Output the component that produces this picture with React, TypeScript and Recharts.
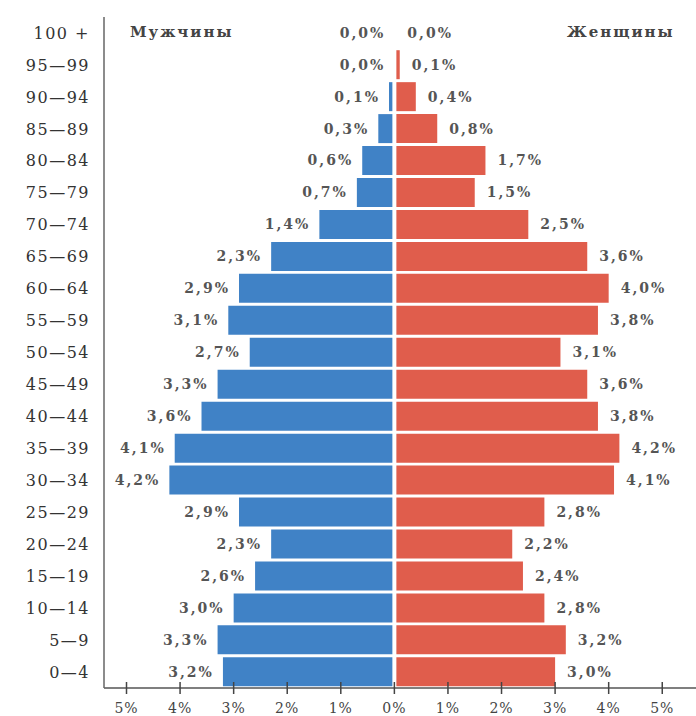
import React from "react";
import {
  BarChart, Bar, XAxis, YAxis, ReferenceLine, LabelList,
} from "recharts";

const ages = [
  "100 +", "95—99", "90—94", "85—89", "80—84", "75—79", "70—74",
  "65—69", "60—64", "55—59", "50—54", "45—49", "40—44", "35—39",
  "30—34", "25—29", "20—24", "15—19", "10—14", "5—9", "0—4",
];
const male = [0.0, 0.0, 0.1, 0.3, 0.6, 0.7, 1.4, 2.3, 2.9, 3.1, 2.7, 3.3, 3.6, 4.1, 4.2, 2.9, 2.3, 2.6, 3.0, 3.3, 3.2];
const female = [0.0, 0.1, 0.4, 0.8, 1.7, 1.5, 2.5, 3.6, 4.0, 3.8, 3.1, 3.6, 3.8, 4.2, 4.1, 2.8, 2.2, 2.4, 2.8, 3.2, 3.0];
const xTicks = [-5, -4, -3, -2, -1, 0, 1, 2, 3, 4, 5];

const rows = ages.map((age, i) => ({ age, male: -male[i], female: female[i] }));

const SERIF = "'DejaVu Serif', serif";
const fmt = (v: number) => `${Math.abs(v).toFixed(1).replace(".", ",")}%`;

// eslint-disable-next-line @typescript-eslint/no-explicit-any
function XTick({ x, y, payload }: any) {
  return (
    <g>
      <line x1={x} x2={x} y1={y - 6} y2={y + 6} stroke="#444" strokeWidth={1.5} />
      <text x={x} y={y + 25} textAnchor="middle" fontSize={14} letterSpacing={1} fill="#444" fontFamily={SERIF}>
        {Math.abs(payload.value)}%
      </text>
    </g>
  );
}

function valueLabel(side: "left" | "right") {
  // eslint-disable-next-line @typescript-eslint/no-explicit-any
  return (props: any) => {
    const { x, y, width, height, value } = props;
    const w = Number(width) || 0;
    const left = Math.min(x, x + w);
    const right = Math.max(x, x + w);
    const cy = y + height / 2;
    return (
      <text
        x={side === "left" ? left - 9 : right + 12}
        y={cy}
        dy="0.35em"
        textAnchor={side === "left" ? "end" : "start"}
        fontSize={14}
        fontWeight="bold"
        letterSpacing={2}
        fill="#555"
        fontFamily={SERIF}
      >
        {fmt(Number(value))}
      </text>
    );
  };
}

const titleStyle: React.CSSProperties = {
  position: "absolute", top: 23, fontFamily: SERIF, fontSize: 15,
  fontWeight: "bold", letterSpacing: 2, color: "#444",
};

export default function App() {
  return (
    <div style={{ position: "absolute", left: 0, top: 0, width: 696, height: 716, background: "#fff" }}>
      <BarChart
        width={696}
        height={716}
        data={rows}
        layout="vertical"
        stackOffset="sign"
        barCategoryGap={1.25}
        margin={{ top: 17, right: 0, bottom: 0, left: 0 }}
      >
        <XAxis
          type="number"
          domain={[-5.42, 5.63]}
          ticks={xTicks}
          height={28}
          tickSize={0}
          tickMargin={0}
          tickLine={false}
          axisLine={{ stroke: "#555", strokeWidth: 1.5 }}
          tick={<XTick />}
          allowDataOverflow
        />
        <YAxis
          type="category"
          dataKey="age"
          width={104}
          tickSize={0}
          tickMargin={14}
          tickLine={false}
          axisLine={{ stroke: "#666", strokeWidth: 1.5 }}
          tick={{ fill: "#333", fontSize: 16, letterSpacing: 1.5, fontFamily: SERIF }}
          interval={0}
        />
        <Bar dataKey="male" stackId="a" fill="#4082C6" minPointSize={1} isAnimationActive={false}>
          <LabelList dataKey="male" content={valueLabel("left")} />
        </Bar>
        <Bar dataKey="female" stackId="a" fill="#E05D4C" minPointSize={1} isAnimationActive={false}>
          <LabelList dataKey="female" content={valueLabel("right")} />
        </Bar>
        <ReferenceLine x={0} stroke="#fff" strokeWidth={4} />
      </BarChart>
      <div style={{ ...titleStyle, left: 130 }}>Мужчины</div>
      <div style={{ ...titleStyle, left: 567 }}>Женщины</div>
    </div>
  );
}
